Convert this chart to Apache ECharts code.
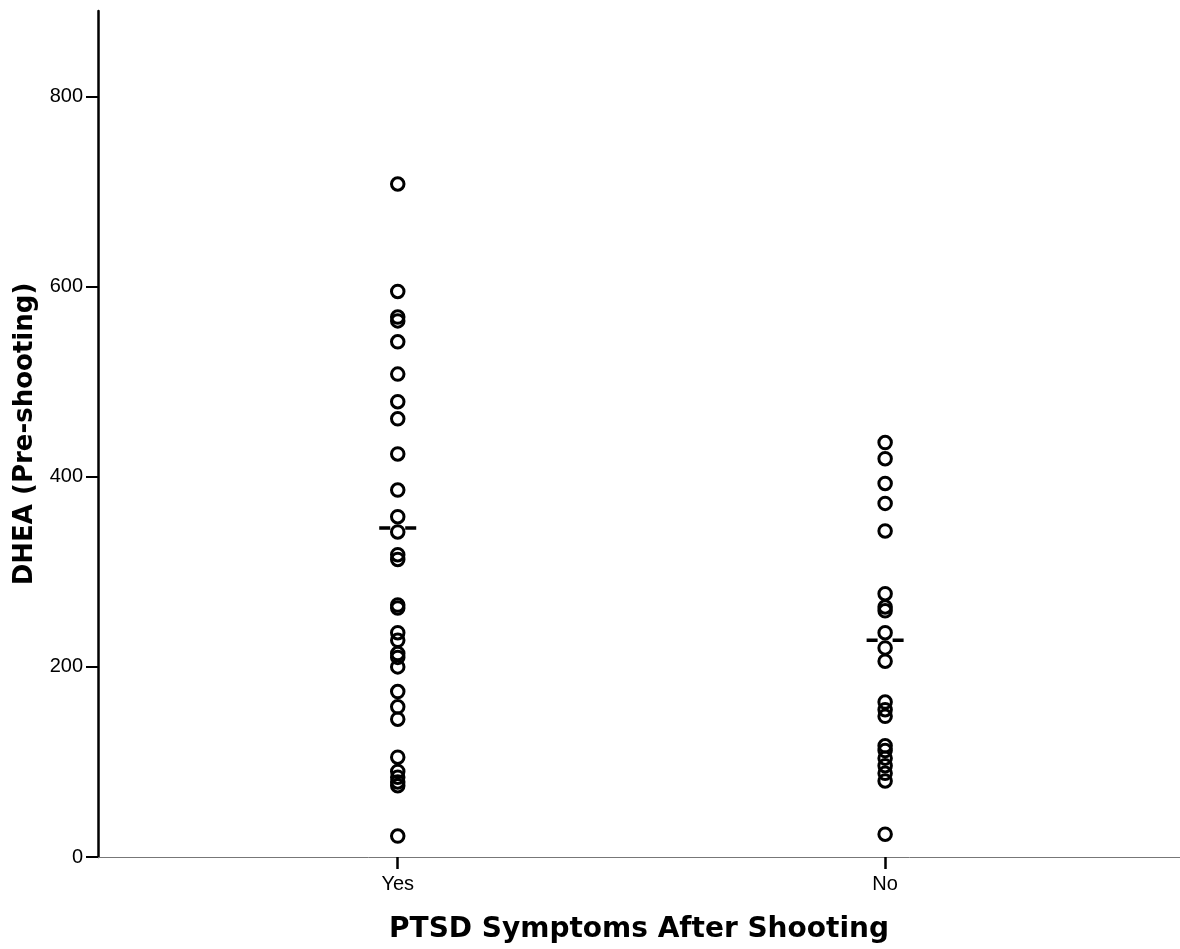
<!DOCTYPE html>
<html>
<head>
<meta charset="utf-8">
<script src="https://cdn.jsdelivr.net/npm/echarts@6/dist/echarts.min.js"></script>
<style>
html,body{margin:0;padding:0;background:#fff;}
#chart{width:1180px;height:949px;}
</style>
</head>
<body>
<div id="chart"></div>
<script>
// Categories (x positions 1 and 2)
const categories = ['Yes', 'No'];
// DHEA (Pre-shooting) values per group
const yesValues = [708, 595, 568, 564, 542, 508, 479, 461, 424, 386, 358, 342, 318, 313,
  265, 262, 236, 228, 214, 210, 200, 174, 158, 145, 105, 90, 84, 79, 75, 22];
const noValues = [436, 419, 393, 372, 343, 277, 263, 259, 236, 220, 206,
  163, 155, 148, 117, 112, 104, 96, 88, 80, 24];
// Group marker (horizontal dash) values
const groupMarks = [346, 228];
// Y tick labels
const yTicks = [0, 200, 400, 600, 800];

const halfDash = 0.038;

const scatterSeries = [yesValues, noValues].map((vals, i) => ({
  type: 'scatter',
  data: vals.map(v => [i + 1, v]),
  symbol: 'circle',
  symbolSize: 12.5,
  itemStyle: { color: 'rgba(0,0,0,0)', borderColor: '#000', borderWidth: 3, opacity: 1 },
  emphasis: { disabled: true },
  z: 3
}));

const markSeries = groupMarks.map((v, i) => ({
  type: 'line',
  data: [[i + 1 - halfDash, v], [i + 1 + halfDash, v]],
  symbol: 'none',
  lineStyle: { color: '#000', width: 3.5, type: [11, 15], opacity: 1 },
  emphasis: { disabled: true },
  z: 4
}));

const chart = echarts.init(document.getElementById('chart'), null, { renderer: 'canvas' });
chart.setOption({
  animation: false,
  backgroundColor: '#fff',
  grid: { left: 98, right: 0, top: 11, bottom: 91.5, containLabel: false },
  xAxis: {
    type: 'value',
    min: 0.385,
    max: 2.605,
    name: 'PTSD Symptoms After Shooting',
    nameLocation: 'middle',
    nameGap: 59,
    nameTextStyle: { fontFamily: 'DejaVu Sans', fontWeight: 'bold', fontSize: 28, color: '#000' },
    axisLine: { show: true, lineStyle: { color: '#777', width: 1 } },
    axisTick: { show: true, customValues: [1, 2], length: 12, lineStyle: { color: '#000', width: 2.5 } },
    axisLabel: {
      customValues: [1, 2],
      margin: 17,
      fontFamily: 'Liberation Sans',
      fontSize: 20,
      color: '#000',
      formatter: v => categories[Math.round(v) - 1] || ''
    },
    splitLine: { show: false }
  },
  yAxis: {
    type: 'value',
    min: 0,
    max: 890,
    name: 'DHEA (Pre-shooting)',
    nameLocation: 'middle',
    nameGap: 58,
    nameTextStyle: { fontFamily: 'DejaVu Sans', fontWeight: 'bold', fontSize: 26, color: '#000' },
    axisLine: { show: true, lineStyle: { color: '#000', width: 2.5 } },
    axisTick: { show: true, customValues: yTicks, length: 12, lineStyle: { color: '#000', width: 2 } },
    axisLabel: {
      customValues: yTicks,
      margin: 15,
      fontFamily: 'Liberation Sans',
      fontSize: 20,
      color: '#000'
    },
    splitLine: { show: false }
  },
  series: [...scatterSeries, ...markSeries]
});
</script>
</body>
</html>
